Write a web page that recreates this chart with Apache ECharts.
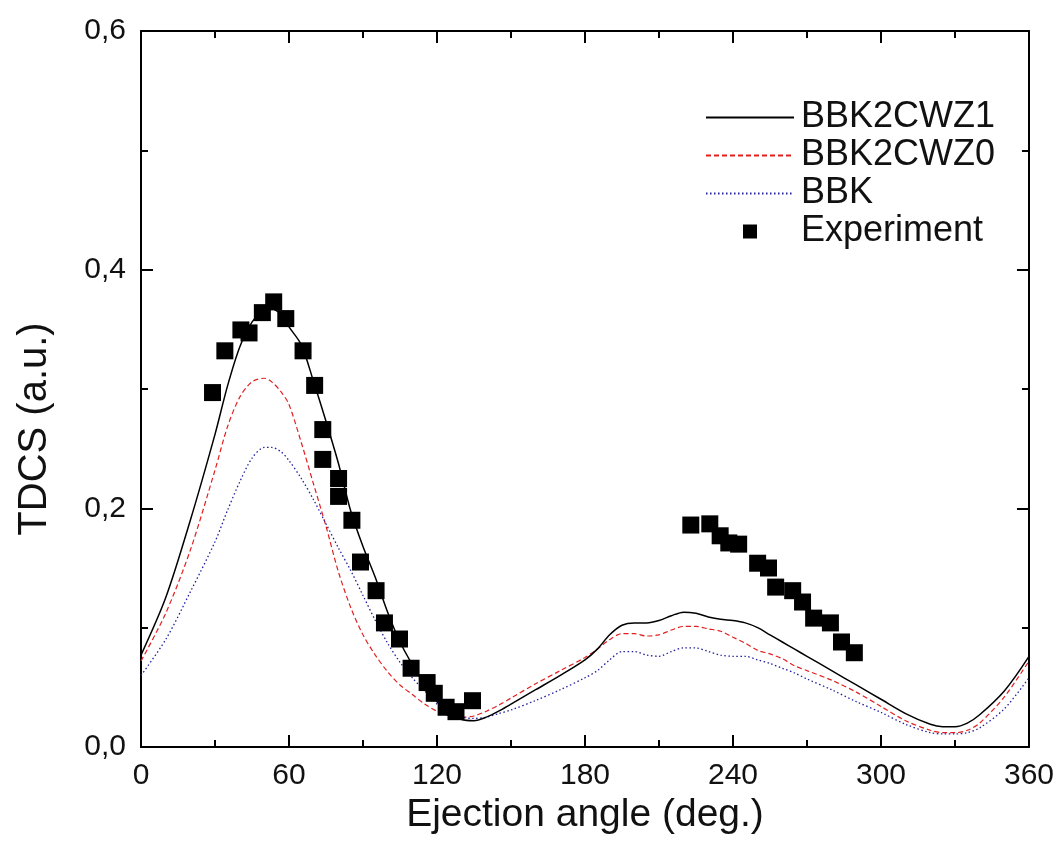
<!DOCTYPE html>
<html>
<head>
<meta charset="utf-8">
<script src="https://cdn.jsdelivr.net/npm/echarts@6/dist/echarts.min.js"></script>
<style>html,body{margin:0;padding:0;background:#fff}#c{width:1057px;height:849px}</style>
</head>
<body>
<div id="c"></div>
<script>
const curveAngles = [0,10,20,30,35,40,45,50,53,57,60,65,70,75,80,85,90,95,100,105,110,115,120,125,130,135,140,145,150,160,170,180,185,190,195,200,205,210,215,220,225,230,235,240,245,250,255,260,265,270,280,290,300,310,320,325,330,335,340,350,360];
const bbk2cwz1 = [0.077,0.125,0.19,0.262,0.302,0.335,0.356,0.366,0.367,0.362,
0.352,0.337,0.306,0.273,0.238,0.198,0.168,0.142,0.113,0.088,
0.069,0.052,0.038,0.029,0.023,0.022,0.025,0.030,0.036,0.048,
0.060,0.073,0.082,0.094,0.102,0.104,0.104,0.106,0.110,0.113,
0.112,0.109,0.107,0.106,0.104,0.100,0.094,0.088,0.082,0.076,
0.064,0.052,0.040,0.028,0.019,0.017,0.017,0.020,0.027,0.047,
0.076];
const bbk2cwz0 = [0.072,0.112,0.165,0.232,0.268,0.293,0.306,0.309,0.306,0.297,
0.287,0.255,0.220,0.185,0.147,0.117,0.094,0.077,0.063,0.052,
0.044,0.036,0.030,0.026,0.025,0.026,0.030,0.035,0.041,0.053,
0.064,0.075,0.082,0.090,0.095,0.095,0.093,0.094,0.098,0.101,
0.101,0.099,0.097,0.092,0.087,0.081,0.078,0.074,0.068,0.064,
0.056,0.046,0.034,0.022,0.014,0.012,0.012,0.014,0.020,0.042,
0.072];
const bbk = [0.060,0.090,0.130,0.172,0.198,0.222,0.242,0.251,0.251,0.247,
0.240,0.225,0.207,0.187,0.167,0.148,0.127,0.106,0.087,0.071,
0.058,0.047,0.036,0.029,0.025,0.024,0.025,0.028,0.031,0.039,
0.048,0.058,0.064,0.073,0.080,0.080,0.077,0.076,0.080,0.083,
0.083,0.080,0.077,0.076,0.076,0.073,0.070,0.066,0.062,0.057,
0.048,0.038,0.029,0.019,0.012,0.011,0.011,0.012,0.016,0.032,
0.058];
const expAngles = [29.0,34.0,40.5,43.8,49.2,53.8,58.7,65.7,70.4,73.7,73.7,80.1,80.1,85.5,89.0,95.3,98.7,104.8,109.5,116.0,118.9,123.7,127.7,134.4,
222.9,230.6,234.8,238.3,242.3,250.0,254.4,257.3,264.2,268.2,272.7,279.5,284.0,289.2];
const expValues = [0.297,0.332,0.3495,0.347,0.364,0.373,0.359,0.332,0.303,0.266,0.241,0.225,0.210,0.190,0.155,0.131,0.104,0.0905,0.066,0.054,0.045,0.0333,0.0296,0.0388,
0.186,0.187,0.177,0.171,0.170,0.154,0.150,0.134,0.131,0.1215,0.108,0.104,0.088,0.079];
const xTicks = [0,60,120,180,240,300,360];
const yTicks = ['0,0','0,2','0,4','0,6'];

const pair = (xs, ys) => xs.map((x, i) => [x, ys[i]]);
const FONT = 'Liberation Sans';
const axisBase = {
  type: 'value',
  axisLine: {show: true, onZero: false, lineStyle: {color: '#000', width: 2}},
  axisTick: {show: true, inside: true, length: 12, lineStyle: {color: '#000', width: 2}},
  minorTick: {show: true, splitNumber: 2, length: 7, lineStyle: {color: '#000', width: 2}},
  splitLine: {show: false}
};
const chart = echarts.init(document.getElementById('c'), null, {renderer: 'canvas'});
chart.setOption({
  backgroundColor: '#fff',
  animation: false,
  textStyle: {fontFamily: FONT},
  grid: {left: 141, right: 26, top: 31, bottom: 102, containLabel: false},
  legend: {
    orient: 'vertical', left: 700, top: 94, itemWidth: 88, itemHeight: 14, itemGap: 1,
    textStyle: {fontFamily: FONT, fontSize: 36, lineHeight: 37, color: '#111', padding: [0,0,0,2]},
    data: [
      {name: 'BBK2CWZ1', itemStyle: {opacity: 0}},
      {name: 'BBK2CWZ0', itemStyle: {opacity: 0}},
      {name: 'BBK', itemStyle: {opacity: 0}},
      {name: 'Experiment', icon: 'path://M0,0L10,0L10,10L0,10Z', itemStyle: {color: '#000', opacity: 1}}
    ]
  },
  xAxis: [
    Object.assign({}, axisBase, {
      min: 0, max: 360, interval: 60, position: 'bottom',
      name: 'Ejection angle (deg.)', nameLocation: 'middle', nameGap: 39,
      nameTextStyle: {fontFamily: FONT, fontSize: 39, color: '#111'},
      axisLabel: {show: true, margin: 14, fontSize: 30, color: '#111', fontFamily: FONT,
        formatter: v => xTicks.indexOf(v) >= 0 ? String(v) : ''}
    }),
    Object.assign({}, axisBase, {min: 0, max: 360, interval: 60, position: 'top', axisLabel: {show: false}})
  ],
  yAxis: [
    Object.assign({}, axisBase, {
      min: 0, max: 0.6, interval: 0.2, position: 'left',
      name: 'TDCS (a.u.)', nameLocation: 'middle', nameGap: 86, nameRotate: 90,
      nameTextStyle: {fontFamily: FONT, fontSize: 40, color: '#111', padding: [0, 80, 0, 0]},
      axisLabel: {show: true, margin: 15, fontSize: 30, color: '#111', fontFamily: FONT,
        formatter: v => yTicks[Math.round(v / 0.2)] || ''}
    }),
    Object.assign({}, axisBase, {min: 0, max: 0.6, interval: 0.2, position: 'right', axisLabel: {show: false}})
  ],
  series: [
    {name: 'BBK2CWZ1', type: 'line', data: pair(curveAngles, bbk2cwz1), smooth: 0.3, symbol: 'none',
      lineStyle: {color: '#000', width: 1.5, type: 'solid'}, itemStyle: {color: '#000'}, z: 3},
    {name: 'BBK2CWZ0', type: 'line', data: pair(curveAngles, bbk2cwz0), smooth: 0.3, symbol: 'none',
      lineStyle: {color: '#e02020', width: 1.2, type: [5,3]}, itemStyle: {color: '#e02020'}, z: 2},
    {name: 'BBK', type: 'line', data: pair(curveAngles, bbk), smooth: 0.3, symbol: 'none',
      lineStyle: {color: '#2020a0', width: 1.3, type: [1.5,2.5]}, itemStyle: {color: '#2020a0'}, z: 2},
    {name: 'Experiment', type: 'scatter', data: pair(expAngles, expValues), symbol: 'rect', symbolSize: 17,
      itemStyle: {color: '#000', opacity: 1}, z: 4}
  ]
});
</script>
</body>
</html>
